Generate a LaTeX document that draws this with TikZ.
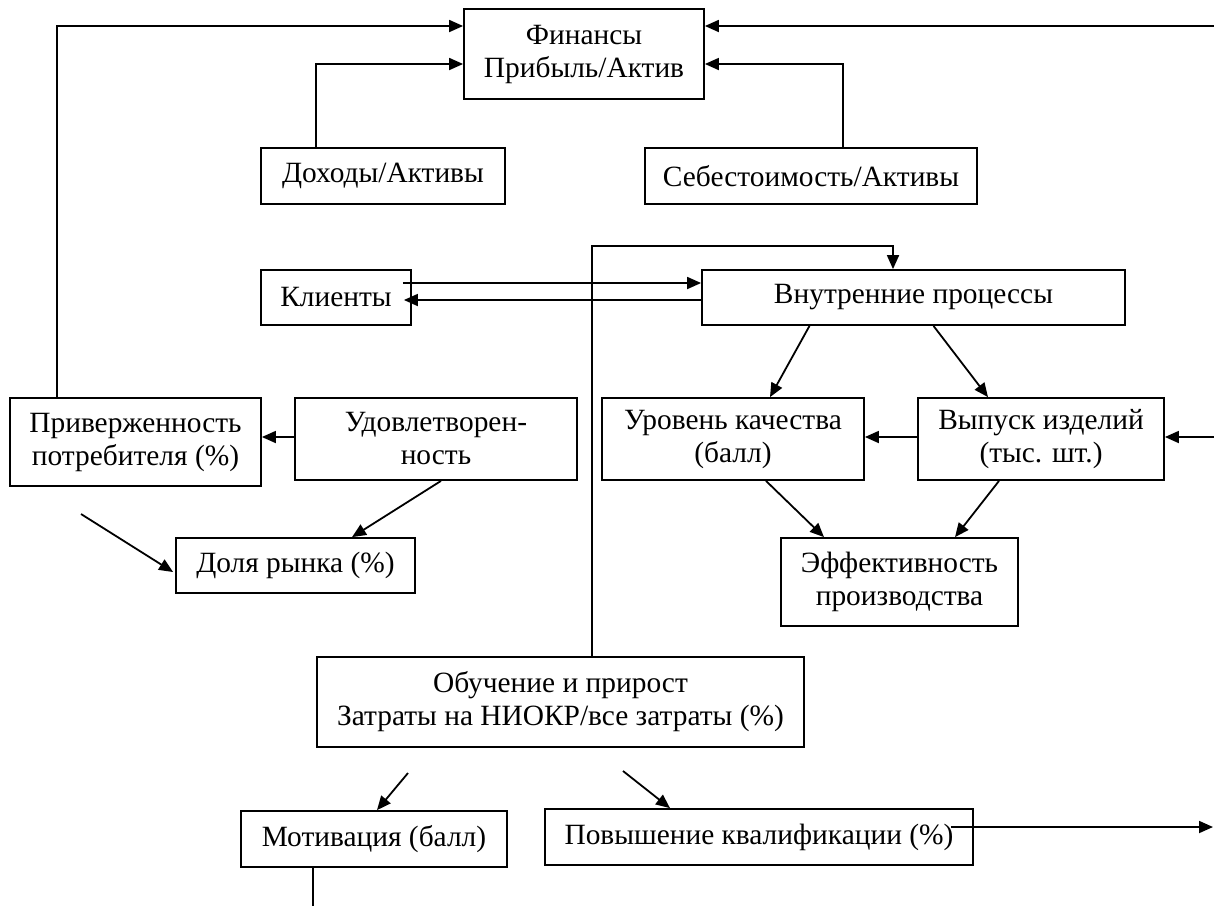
\documentclass[tikz,border=0pt]{standalone}
\usepackage{fontspec}
\setmainfont{Liberation Serif}
\usepackage{tikz}
\usetikzlibrary{calc,arrows.meta,positioning}

\begin{document}
\begin{tikzpicture}[
  x=0.5pt, y=0.5pt,
  font=\fontsize{14.7}{16.5}\selectfont,
  line width=0.9pt,
  blok/.style={
    draw,
    rectangle,
    align=center,
    inner sep=0pt
    },
  strl/.style={
    -{Triangle[length=7pt,width=6pt]}
    }
]
\useasboundingbox (0,0) rectangle (1214,-906);

% finance level
\node[blok, minimum width=120pt, minimum height=45pt] (fin) at (584,-54) {Финансы\\Прибыль/Актив};
\node[blok, minimum width=122pt, minimum height=28pt] (doh) at (383,-176) {Доходы/Активы};
\node[blok, minimum width=166pt, minimum height=28pt] (seb) at (811,-176) {Себестоимость/Активы};

% clients and internal processes
\node[blok, minimum width=75pt, minimum height=27.5pt] (kli) at (336,-297.5) {Клиенты};
\node[blok, minimum width=211.5pt, minimum height=27.5pt] (vnu) at (913.5,-297.5) {Внутренние процессы};

\node[blok, minimum width=125.5pt, minimum height=44pt] (pri) at (135.5,-442) {Приверженность\\потребителя (\%)};
\node[blok, minimum width=141pt, minimum height=41pt] (udo) at (436,-439) {Удовлетворен-\\ность};
\node[blok, minimum width=131pt, minimum height=41pt] (urov) at (733,-439) {Уровень качества\\(балл)};
\node[blok, minimum width=123pt, minimum height=41pt] (vyp) at (1041,-439) {Выпуск изделий\\(тыс. шт.)};

\node[blok, minimum width=119.5pt, minimum height=27.5pt] (dol) at (295.5,-565.5) {Доля рынка (\%)};
\node[blok, minimum width=118.5pt, minimum height=44pt] (eff) at (899.5,-582) {Эффективность\\производства};

% learning and growth
\node[blok, minimum width=243.5pt, minimum height=45pt] (obu) at (560.5,-702) {Обучение и прирост\\Затраты на НИОКР/все затраты (\%)};
\node[blok, minimum width=133pt, minimum height=28pt] (mot) at (374,-839) {Мотивация (балл)};
\node[blok, minimum width=214pt, minimum height=28pt] (pov) at (759,-837) {Повышение квалификации (\%)};

% free ends
\coordinate (rtop) at (1214,-26);
\coordinate (rmid) at (1214,-437);
\coordinate (rbot) at (1213,-827);
\coordinate (lfree) at (81,-514);
\coordinate (mfree) at (408,-773);
\coordinate (pfree) at (623,-771);
\coordinate (mbot) at (313,-906);

\draw[strl] ($(pri.north west)+(48,0)$) |- ($(fin.west)+(0,28)$);
\draw[strl] ($(doh.north west)+(56,0)$) |- ($(fin.west)+(0,-10)$);
\draw[strl] (rtop) -- ($(fin.east)+(0,28)$);
\draw[strl] ($(seb.north east)+(-135,0)$) |- ($(fin.east)+(0,-10)$);

\draw[strl] ($(kli.east)+(-9,14.5)$) -- ($(vnu.west)+(0,14.5)$);
\draw[strl] ($(vnu.west)+(0,-2.5)$) -- ($(kli.east)+(-8,-2.5)$);
\draw[strl] ($(obu.north)+(31.5,0)$) |- ($(vnu.north)+(-20.5,23)$) -- ($(vnu.north)+(-20.5,0)$);

\draw[strl] ($(vnu.south)+(-104,0)$) -- ($(urov.north)+(37,0)$);
\draw[strl] ($(vnu.south)+(20,0)$) -- ($(vyp.north)+(-53,0)$);

\draw[strl] ($(udo.west)+(0,2)$) -- ($(pri.east)+(0,5)$);
\draw[strl] ($(vyp.west)+(0,2)$) -- ($(urov.east)+(0,2)$);
\draw[strl] (rmid) -- ($(vyp.east)+(0,2)$);

\draw[strl] ($(udo.south)+(5,0)$) -- ($(dol.north)+(56.5,0)$);
\draw[strl] (lfree) -- ($(dol.west)+(-2,-6.5)$);
\draw[strl] ($(urov.south)+(33,0)$) -- ($(eff.north)+(-75.5,0)$);
\draw[strl] ($(vyp.south)+(-42,0)$) -- ($(eff.north)+(55.5,0)$);

\draw[strl] (mfree) -- ($(mot.north)+(3,0)$);
\draw[strl] (pfree) -- ($(pov.north)+(-89,0)$);
\draw ($(mot.south)+(-61,0)$) -- (mbot);
\draw[strl] ($(pov.east)+(-23,10)$) -- (rbot);

\end{tikzpicture}
\end{document}
